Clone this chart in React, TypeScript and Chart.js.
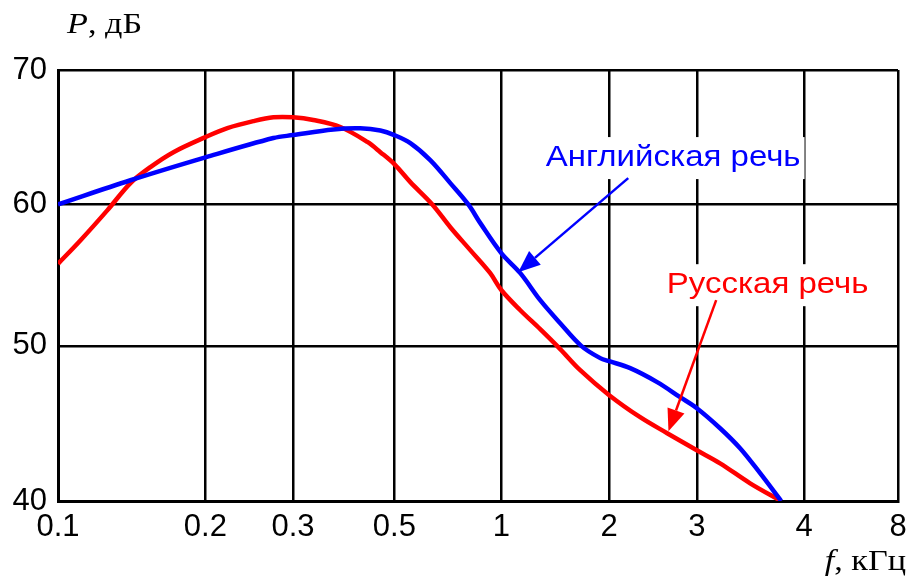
import React, { useEffect, useRef } from "react";
import { Chart, registerables } from "chart.js";

Chart.register(...registerables);

// Axis definition (the original chart uses a non-uniform, hand-drawn frequency scale)
const xTickValues = [0.1, 0.2, 0.3, 0.5, 1, 2, 3, 4, 8];
const xTickLabels = ["0.1", "0.2", "0.3", "0.5", "1", "2", "3", "4", "8"];
const xTickPositions = [0, 0.1755, 0.2798, 0.4004, 0.5277, 0.6562, 0.7605, 0.8882, 1];
const yTickValues = [40, 50, 60, 70];
const yTickLabels = ["40", "50", "60", "70"];
const yTickPositions = [0, 0.36, 0.688, 1];

// English speech spectrum (kHz, dB)
const englishFreq = [0.1, 0.1406, 0.2, 0.274, 0.3, 0.3676, 0.421, 0.466, 0.5, 0.5547, 0.631, 0.7187, 0.8076, 0.873, 1.0, 1.13, 1.284, 1.46, 1.671, 1.888, 2.0, 2.204, 2.497, 2.777, 3.0, 3.193, 3.369, 3.555, 3.761];
const englishDb = [60.0, 61.8, 63.5, 64.94, 65.16, 65.58, 65.66, 65.5, 65.16, 64.56, 63.3, 61.59, 60.0, 58.68, 56.56, 55.14, 53.23, 51.6, 50.0, 49.21, 49.01, 48.56, 47.66, 46.69, 45.98, 44.69, 43.4, 41.79, 40.0];

// Russian speech spectrum (kHz, dB)
const russianFreq = [0.1, 0.1112, 0.1262, 0.1406, 0.1544, 0.1721, 0.2, 0.2214, 0.2497, 0.274, 0.3, 0.3323, 0.3808, 0.4364, 0.466, 0.5, 0.5547, 0.6396, 0.7187, 0.818, 0.931, 1.0, 1.13, 1.284, 1.46, 1.66, 2.0, 2.308, 2.615, 3.0, 3.193, 3.461, 3.761];
const russianDb = [55.8, 57.47, 59.6, 61.59, 62.78, 63.89, 65.01, 65.68, 66.2, 66.48, 66.48, 66.28, 65.76, 64.65, 63.89, 63.0, 61.66, 60.0, 58.39, 56.77, 55.14, 53.95, 52.52, 51.18, 49.79, 48.43, 46.82, 45.4, 44.37, 43.27, 42.43, 41.14, 40.0];

// Callout labels (kHz, dB)
const labelTexts = ["Английская речь", "Русская речь"];
const labelColors = ["#0000ff", "#ff0000"];
const labelFreq = [2.689, 3.627];
const labelDb = [63.45, 54.29];

// Callout arrows: [fromFreq, fromDb, toFreq, toDb]
const englishArrow = [2.184, 61.96, 1.115, 55.21];
const russianArrow = [3.16, 53.23, 2.631, 44.5];

const SANS = "'Liberation Sans', Arial, sans-serif";
const SERIF = "'Liberation Serif', 'Times New Roman', serif";

function warp(v: number, vals: number[], pos: number[], log: boolean) {
  const f = (a: number) => (log ? Math.log(a) : a);
  let i = 0;
  while (i < vals.length - 2 && v > vals[i + 1]) i++;
  const t = (f(v) - f(vals[i])) / (f(vals[i + 1]) - f(vals[i]));
  return pos[i] + t * (pos[i + 1] - pos[i]);
}
const wx = (f: number) => warp(f, xTickValues, xTickPositions, true);
const wy = (d: number) => warp(d, yTickValues, yTickPositions, false);

// draws text horizontally stretched (the original artwork is wider than the font)
function stretchedText(ctx: any, text: string, x: number, y: number, sx: number) {
  ctx.save();
  ctx.translate(x, y);
  ctx.scale(sx, 1);
  ctx.fillText(text, 0, 0);
  ctx.restore();
}

const LABEL_STRETCH = 1.1;
const TITLE_STRETCH = 1.14;

const annotationPlugin = {
  id: "speechAnnotations",
  afterDatasetsDraw(chart: any) {
    const { ctx, scales } = chart;
    const px = (f: number) => scales.x.getPixelForValue(wx(f));
    const py = (d: number) => scales.y.getPixelForValue(wy(d));
    ctx.save();
    ctx.font = `30px ${SANS}`;
    ctx.textAlign = "center";
    ctx.textBaseline = "middle";
    labelTexts.forEach((t, i) => {
      const x = px(labelFreq[i]);
      const y = py(labelDb[i]);
      const w = ctx.measureText(t).width * LABEL_STRETCH;
      ctx.fillStyle = "#fff";
      ctx.fillRect(x - w / 2 - 4, y - 21, w + 8, 42);
      ctx.fillStyle = labelColors[i];
      stretchedText(ctx, t, x, y, LABEL_STRETCH);
    });
    const arrows = [englishArrow, russianArrow];
    arrows.forEach((a, i) => {
      const x1 = px(a[0]), y1 = py(a[1]), x2 = px(a[2]), y2 = py(a[3]);
      const ang = Math.atan2(y2 - y1, x2 - x1);
      const hl = 22, hw = 9;
      const bx = x2 - hl * Math.cos(ang), by = y2 - hl * Math.sin(ang);
      ctx.strokeStyle = labelColors[i];
      ctx.fillStyle = labelColors[i];
      ctx.lineWidth = 2.5;
      ctx.beginPath();
      ctx.moveTo(x1, y1);
      ctx.lineTo(bx, by);
      ctx.stroke();
      ctx.beginPath();
      ctx.moveTo(x2, y2);
      ctx.lineTo(bx + hw * Math.sin(ang), by - hw * Math.cos(ang));
      ctx.lineTo(bx - hw * Math.sin(ang), by + hw * Math.cos(ang));
      ctx.closePath();
      ctx.fill();
    });
    ctx.restore();
  },
  afterDraw(chart: any) {
    const { ctx, chartArea, width } = chart;
    ctx.save();
    ctx.fillStyle = "#000";
    ctx.textBaseline = "alphabetic";
    ctx.textAlign = "left";
    const S = TITLE_STRETCH;
    // y axis title
    let x = chartArea.left + 9;
    const yTop = chartArea.top - 37;
    ctx.font = `italic 30px ${SERIF}`;
    stretchedText(ctx, "P", x, yTop, S);
    x += ctx.measureText("P").width * S;
    ctx.font = `30px ${SERIF}`;
    stretchedText(ctx, ", дБ", x, yTop, S);
    // x axis title (right aligned)
    const yBot = chartArea.bottom + 69;
    ctx.font = `30px ${SERIF}`;
    const restW = ctx.measureText(", кГц").width * S;
    ctx.font = `italic 30px ${SERIF}`;
    const fW = ctx.measureText("f").width * S;
    const start = width - 2 - restW - fW;
    stretchedText(ctx, "f", start, yBot, S);
    ctx.font = `30px ${SERIF}`;
    stretchedText(ctx, ", кГц", start + fW, yBot, S);
    ctx.restore();
  },
};

export default function App() {
  const ref = useRef<HTMLCanvasElement>(null);
  useEffect(() => {
    const chart = new Chart(ref.current as HTMLCanvasElement, {
      type: "line",
      data: {
        datasets: [
          {
            label: "Английская речь",
            data: englishFreq.map((f, i) => ({ x: wx(f), y: wy(englishDb[i]) })),
            borderColor: "#0000ff",
            borderWidth: 4.5,
            pointRadius: 0,
            tension: 0.35,
            fill: false,
          },
          {
            label: "Русская речь",
            data: russianFreq.map((f, i) => ({ x: wx(f), y: wy(russianDb[i]) })),
            borderColor: "#ff0000",
            borderWidth: 4.5,
            pointRadius: 0,
            tension: 0.35,
            fill: false,
          },
        ],
      },
      options: {
        animation: false,
        responsive: false,
        devicePixelRatio: 1,
        layout: { padding: { top: 70, right: 10, left: 0, bottom: 0 } },
        plugins: { legend: { display: false }, tooltip: { enabled: false } },
        scales: {
          x: {
            type: "linear",
            min: 0,
            max: 1,
            afterBuildTicks: (s: any) => {
              s.ticks = xTickPositions.map((v) => ({ value: v }));
            },
            afterFit: (s: any) => {
              s.height = 76;
              s.paddingLeft = 0;
              s.paddingRight = 0;
            },
            ticks: {
              callback: (_v: any, i: number) => xTickLabels[i],
              font: { family: SANS, size: 31 },
              color: "#000",
              padding: 8,
              maxRotation: 0,
              autoSkip: false,
            },
            grid: { color: "#000", lineWidth: 2.5, drawTicks: false },
            border: { color: "#000", width: 3 },
          },
          y: {
            type: "linear",
            min: 0,
            max: 1,
            afterBuildTicks: (s: any) => {
              s.ticks = yTickPositions.map((v) => ({ value: v }));
            },
            afterFit: (s: any) => {
              s.width = 58;
              s.paddingTop = 0;
              s.paddingBottom = 0;
            },
            ticks: {
              callback: (_v: any, i: number) => yTickLabels[i],
              font: { family: SANS, size: 31 },
              color: "#000",
              padding: 11,
              autoSkip: false,
            },
            grid: { color: "#000", lineWidth: 2.5, drawTicks: false },
            border: { color: "#000", width: 3 },
          },
        },
      },
      plugins: [annotationPlugin],
    } as any);
    return () => chart.destroy();
  }, []);
  return (
    <div style={{ position: "absolute", left: 0, top: 0, width: 908, height: 577, background: "#fff" }}>
      <canvas ref={ref} width={908} height={577} style={{ display: "block" }} />
    </div>
  );
}
